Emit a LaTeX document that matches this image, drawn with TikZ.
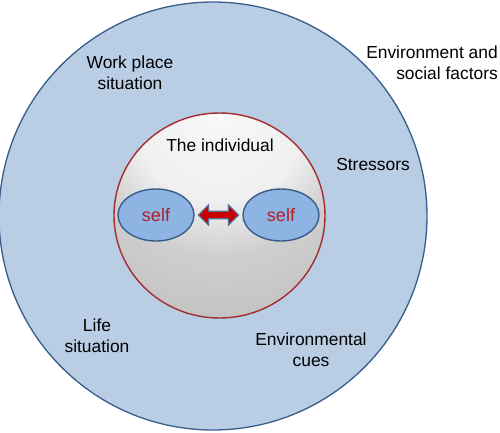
\documentclass[tikz,border=0pt]{standalone}
\usepackage{fontspec}
\setmainfont{Liberation Sans}
\usetikzlibrary{shapes.geometric,shapes.arrows,calc}
\definecolor{outerfill}{RGB}{185,205,229}
\definecolor{outerline}{RGB}{56,93,138}
\definecolor{innerline}{RGB}{165,45,45}
\definecolor{selffill}{RGB}{141,180,226}
\definecolor{selfline}{RGB}{56,93,138}
\definecolor{selftext}{RGB}{180,30,40}
\definecolor{arrowfill}{RGB}{200,0,0}
\definecolor{arrowline}{RGB}{85,110,150}
\pgfdeclareradialshading{indiv}{\pgfpoint{0bp}{30bp}}{%
  color(0bp)=(white!98!black);
  color(20bp)=(white!94!black);
  color(30bp)=(white!81!black);
  color(54bp)=(white!72!black);
  color(70bp)=(white!65!black);
  color(80bp)=(white!61!black);
  color(90bp)=(white!58!black)}
\tikzset{
  lbl/.style={font=\fontsize{17.4}{21}\selectfont, align=center, inner sep=0pt},
  selfnode/.style={ellipse, draw=selfline, line width=1.4pt, fill=selffill,
    minimum width=76pt, minimum height=52pt, inner sep=0pt,
    text=selftext, font=\fontsize{18}{21}\selectfont},
  dbl/.style={double arrow, draw=arrowline, line width=1.2pt, fill=arrowfill,
    minimum height=40pt, minimum width=20pt, inner sep=3pt,
    double arrow head extend=6pt}
}
\begin{document}
\begin{tikzpicture}[x=1pt,y=-1pt]
\useasboundingbox (0,0) rectangle (500,432);
\node[circle, draw=outerline, line width=1.3pt, fill=outerfill, minimum size=428pt, inner sep=0pt] (outer) at (213,216) {};
\node[ellipse, draw=innerline, line width=1.4pt, shading=indiv, minimum width=211pt, minimum height=205pt, inner sep=0pt] (inner) at (219.5,215.5) {};
\node[selfnode] (selfL) at (156,215) {self};
\node[selfnode] (selfR) at (281,215) {self};
\node[dbl] (arr) at ($(selfL.east)!0.5!(selfR.west)$) {};
\node[lbl] (indiv) at (220,145) {The individual};
\node[lbl] (work) at (130,73) {Work place\\situation};
\node[lbl, align=right, anchor=east] (env) at (498,63) {Environment and\\social factors};
\node[lbl] (stress) at (373,165) {Stressors};
\node[lbl] (life) at (97,336) {Life\\situation};
\node[lbl] (cues) at (311,350) {Environmental\\cues};
\end{tikzpicture}
\end{document}
